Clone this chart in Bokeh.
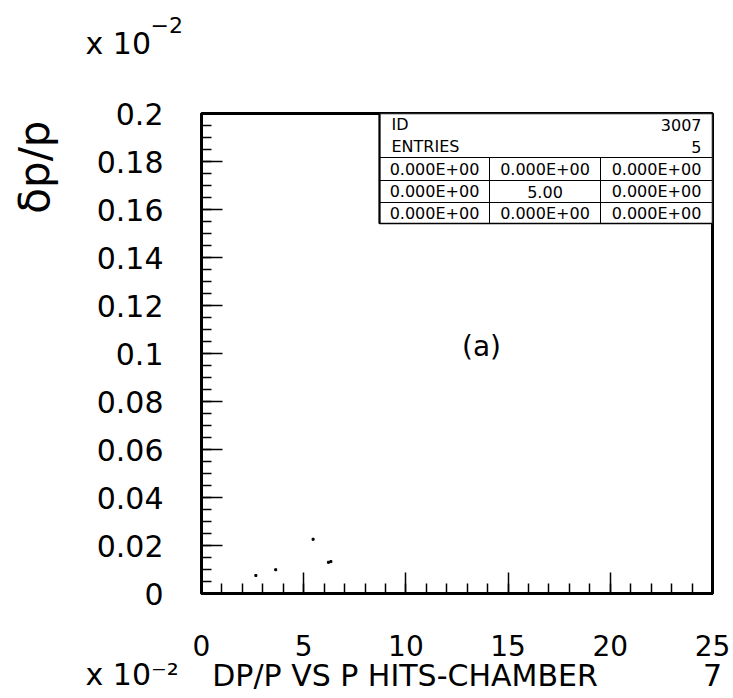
from bokeh.plotting import figure
from bokeh.models import Range1d, FixedTicker, Label, Title, LinearAxis
from bokeh.embed import file_html
from bokeh.resources import INLINE

# ---------------- data ----------------
x_vals = [2.66, 3.63, 5.46, 6.21, 6.33]          # DP/P x 10^-2 (x)
y_vals = [0.0075, 0.0099, 0.0226, 0.0130, 0.0133]  # dp/p x 10^-2 (y)

x_major = [0, 5, 10, 15, 20, 25]
x_tick_labels = ["0", "5", "10", "15", "20", "25"]
x_minor = list(range(0, 26))

y_major = [0, 0.02, 0.04, 0.06, 0.08, 0.1, 0.12, 0.14, 0.16, 0.18, 0.2]
y_tick_labels = ["0", "0.02", "0.04", "0.06", "0.08", "0.1", "0.12", "0.14", "0.16", "0.18", "0.2"]
y_minor = [round(i * 0.005, 3) for i in range(0, 41)]

stat_id = "3007"
stat_entries = "5"
stat_grid = [
    ["0.000E+00", "0.000E+00", "0.000E+00"],
    ["0.000E+00", "5.00", "0.000E+00"],
    ["0.000E+00", "0.000E+00", "0.000E+00"],
]

title_text = "DP/P VS P HITS-CHAMBER"
title_num = "7"
y_title = "δp/p"
exp_base = "x 10"
exp_sup = "\u22122"
exp_bottom = "x 10\u207b\u00b2"
panel_tag = "(a)"

# ---------------- layout ----------------
X0, X1, Y0, Y1 = 0, 25, 0, 0.2
W, H = 733, 698
FL, FR, FT, FB = 201, 712, 113, 593   # frame edges in pixels

FONT = "DejaVu Sans"
EM = 1.164  # font height / font size for DejaVu Sans

p = figure(width=W, height=H, output_backend="svg", toolbar_location=None,
           x_range=Range1d(X0, X1), y_range=Range1d(Y0, Y1),
           min_border_left=FL, min_border_right=W - FR,
           min_border_top=FT, min_border_bottom=H - FB)
p.grid.visible = False
p.background_fill_color = "white"
p.border_fill_color = "white"
p.outline_line_color = "black"
p.outline_line_width = 3


def dx(px):
    return X0 + (px - FL) / (FR - FL) * (X1 - X0)


def dy(py):
    return Y0 + (FB - py) / (FB - FT) * (Y1 - Y0)


for ax in (p.xaxis[0], p.yaxis[0]):
    ax.axis_line_width = 3
    ax.axis_line_color = "black"
    ax.major_tick_in = 21
    ax.major_tick_out = 0
    ax.minor_tick_in = 10
    ax.minor_tick_out = 0
    ax.major_tick_line_width = 1.5
    ax.minor_tick_line_width = 1.5
    ax.major_tick_line_color = "black"
    ax.minor_tick_line_color = "black"
    ax.major_label_text_font = FONT
    ax.major_label_text_color = "black"

p.xaxis.ticker = FixedTicker(ticks=x_major, minor_ticks=x_minor)
p.xaxis.major_label_overrides = {t: l for t, l in zip(x_major, x_tick_labels)}
p.xaxis.major_label_text_font_size = "28px"
p.xaxis.major_label_standoff = 41

p.yaxis.ticker = FixedTicker(ticks=y_major, minor_ticks=y_minor)
p.yaxis.major_label_overrides = {t: l for t, l in zip(y_major, y_tick_labels)}
p.yaxis.major_label_text_font_size = "30px"
p.yaxis.major_label_standoff = 38

# data points
p.scatter(x_vals, y_vals, marker="square", size=2, color="black")

# statistics box
cols = [379, 489, 600, 712]
rows = [113, 157, 180, 202, 223]
p.quad(left=[dx(cols[0])], right=[dx(cols[3])], top=[dy(rows[0])], bottom=[dy(rows[4])],
       fill_color="white", line_color="black", line_width=1.5)
p.segment(x0=[dx(cols[0])] * 3, x1=[dx(cols[3])] * 3,
          y0=[dy(r) for r in rows[1:4]], y1=[dy(r) for r in rows[1:4]],
          line_color="black", line_width=1)
p.segment(x0=[dx(c) for c in cols[1:3]], x1=[dx(c) for c in cols[1:3]],
          y0=[dy(rows[1])] * 2, y1=[dy(rows[4])] * 2, line_color="black", line_width=1)
p.segment(x0=[dx(cols[0])], x1=[dx(cols[0])], y0=[dy(rows[0])], y1=[dy(rows[4])],
          line_color="black", line_width=2)


def data_label(px, py, text, size, align="left"):
    p.add_layout(Label(x=dx(px), y=dy(py), text=text, text_font=FONT, text_font_size=size,
                       text_color="black", text_baseline="middle", text_align=align))


SF = "16px"
data_label(391, 124, "ID", SF)
data_label(701, 124, stat_id, SF, "right")
data_label(391, 146, "ENTRIES", SF)
data_label(701, 146, stat_entries, SF, "right")
row_mid = [168.5, 191, 212.5]
for ri, row in enumerate(stat_grid):
    for ci, txt in enumerate(row):
        cx = (cols[ci] + cols[ci + 1]) / 2
        data_label(cx, row_mid[ri], txt, SF, "center")

data_label(481, 346, panel_tag, "28px", "center")


# ---- texts outside the frame: titles in side panels (centred in their panel) ----
def add_title(side, text, fs, panel, align="left", offset=0):
    p.add_layout(Title(text=text, align=align, offset=offset, vertical_align="middle",
                       standoff=panel - EM * fs, text_font=FONT, text_font_size=f"{fs}px",
                       text_color="black", text_font_style="normal"), side)


# above: spacer, "x 10", "-2"
add_title("above", " ", 1, 61.5)
add_title("above", exp_base, 30, 10, offset=85 - FL)
add_title("above", exp_sup, 22, 32.2, offset=150 - FL)

# left: spacer, rotated y title
add_title("left", " ", 1, 31)
add_title("left", y_title, 42, 50, align="right", offset=7)

# below: exponent, then an axis carrying the caption texts
add_title("below", exp_bottom, 30, 30, offset=85 - FL)

cap_pos = [dx(404.5), X1]
cap_ax = LinearAxis(ticker=FixedTicker(ticks=cap_pos, minor_ticks=[]),
                    major_label_overrides={cap_pos[0]: title_text, cap_pos[1]: title_num},
                    axis_line_color=None, major_tick_line_color=None, minor_tick_line_color=None,
                    major_tick_in=0, major_tick_out=0, minor_tick_in=0, minor_tick_out=0,
                    major_label_standoff=-33, major_label_text_font=FONT,
                    major_label_text_font_size="30px", major_label_text_color="black")
p.add_layout(cap_ax, "below")

open("out.html", "w").write(file_html(p, INLINE))
